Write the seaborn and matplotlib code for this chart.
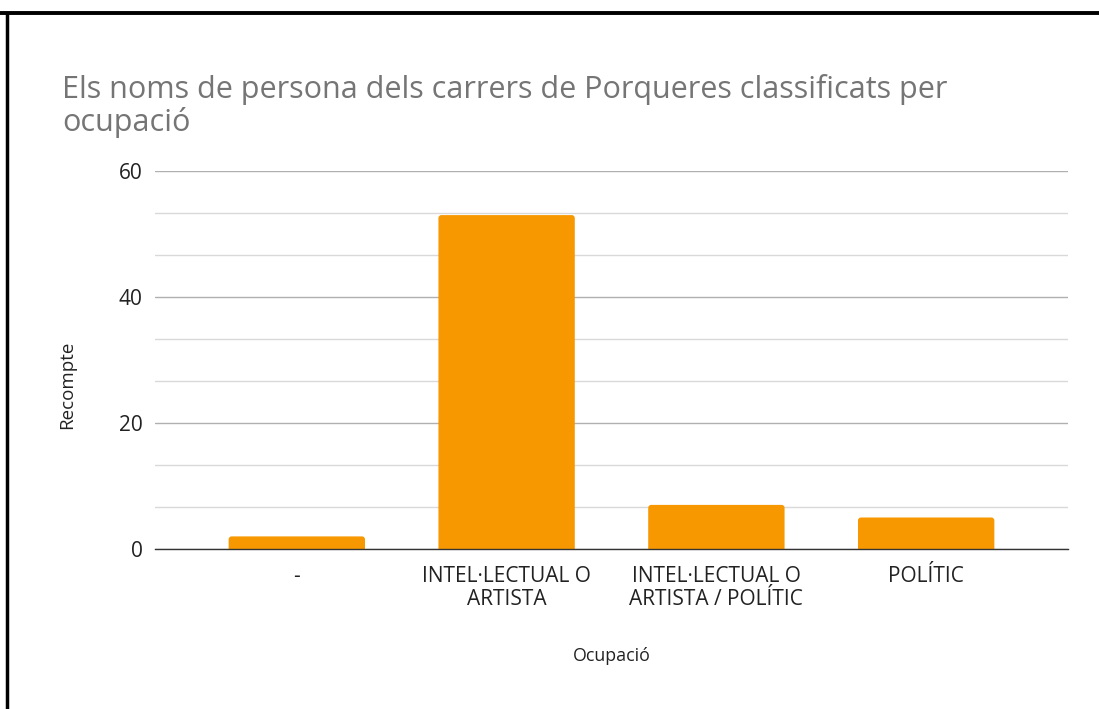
import pandas as pd
import matplotlib
matplotlib.use("Agg")
import matplotlib.pyplot as plt
from matplotlib.lines import Line2D
from matplotlib.patches import FancyBboxPatch
from matplotlib.ticker import MultipleLocator
import seaborn as sns

# Data
categories = ["-", "INTEL·LECTUAL O\nARTISTA", "INTEL·LECTUAL O\nARTISTA / POLÍTIC", "POLÍTIC"]
counts = [2, 53, 7, 5]

df = pd.DataFrame({"Ocupació": categories, "Recompte": counts})

sns.set_style("white")
plt.rcParams["font.family"] = ["Open Sans", "DejaVu Sans"]

fig = plt.figure(figsize=(10.99, 7.09), dpi=100)
ax = fig.add_axes([155 / 1099, 1 - 549 / 709, 913 / 1099, 378 / 709])

sns.barplot(data=df, x="Ocupació", y="Recompte", color="#f79800",
            width=0.65, saturation=1, ax=ax)

ax.set_xlim(-0.676, 3.676)
ax.set_ylim(0, 60)

# slightly rounded bar tops
rx = 3 / 210
ry = 3 / 6.29
for p in list(ax.patches):
    x, w, h = p.get_x(), p.get_width(), p.get_height()
    rounded = FancyBboxPatch((x, -1), w, h + 1,
                             boxstyle=f"round,pad=0,rounding_size={rx}",
                             mutation_aspect=ry / rx,
                             facecolor=p.get_facecolor(), edgecolor="none", zorder=2)
    p.remove()
    ax.add_patch(rounded)

ax.yaxis.set_major_locator(MultipleLocator(20))
ax.yaxis.set_minor_locator(MultipleLocator(20 / 3))
ax.grid(which="major", axis="y", color="#b0b0b0", lw=1)
ax.grid(which="minor", axis="y", color="#d9d9d9", lw=1)
ax.set_axisbelow(True)
ax.tick_params(axis="both", which="both", length=0, labelsize=15, colors="#222222")
ax.tick_params(axis="y", pad=9)
ax.tick_params(axis="x", pad=12)
for lbl in ax.get_xticklabels():
    lbl.set_linespacing(1.12)

for s in ["top", "right", "left"]:
    ax.spines[s].set_visible(False)
ax.spines["bottom"].set_color("#333333")
ax.spines["bottom"].set_linewidth(1)
ax.spines["bottom"].set_zorder(3)

ax.set_xlabel("Ocupació", fontsize=12.8, color="#222222")
ax.set_ylabel("Recompte", fontsize=13.5, color="#222222")
ax.xaxis.set_label_coords(0.5, -0.259)
ax.yaxis.set_label_coords(-0.0865, 0.434)

fig.text(62 / 1099, 1 - 74 / 709,
         "Els noms de persona dels carrers de Porqueres classificats per\nocupació",
         fontsize=22, color="#757575", va="top", ha="left", linespacing=1.1)

# screenshot frame
fig.add_artist(Line2D([0, 1], [1 - 13 / 709, 1 - 13 / 709], color="black", lw=2.8))
fig.add_artist(Line2D([7 / 1099, 7 / 1099], [0, 1 - 13 / 709], color="black", lw=2.5))

fig.savefig("out.png", dpi=100, facecolor="white")
